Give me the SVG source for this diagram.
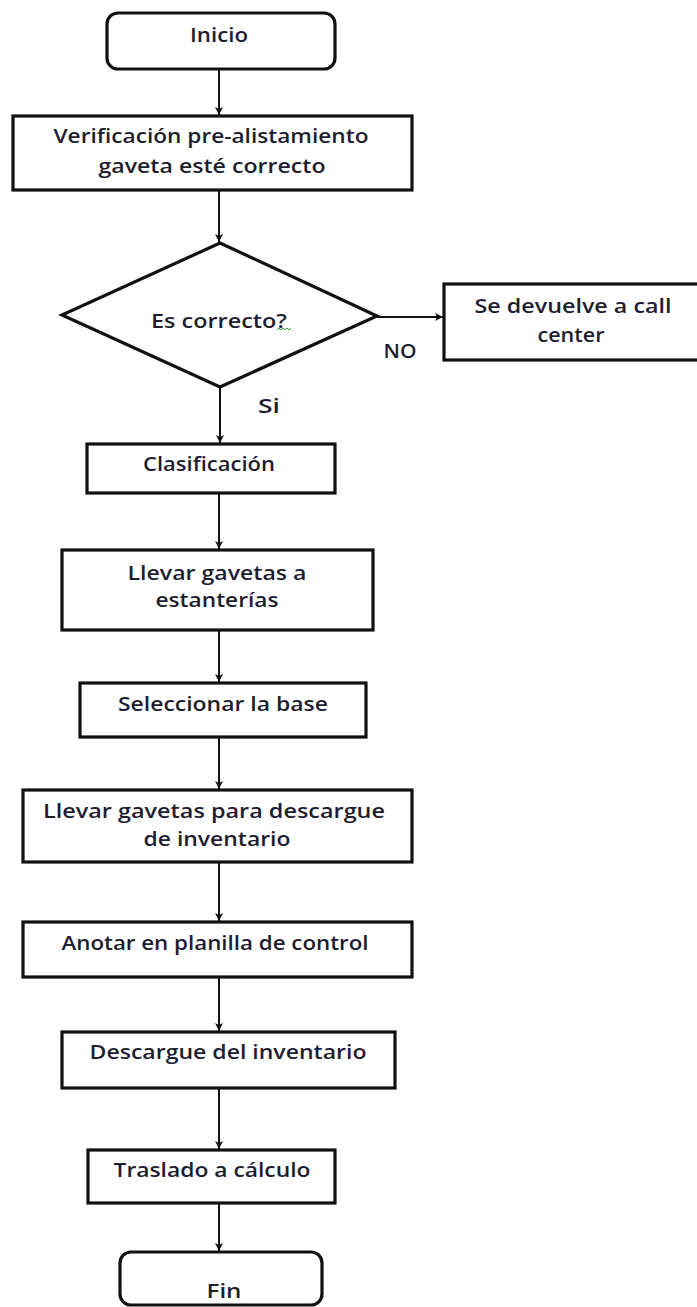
<svg xmlns="http://www.w3.org/2000/svg" width="697" height="1307" viewBox="0 0 697 1307">
  <style>
    .box { fill: #ffffff; stroke: #111111; stroke-width: 3.2; }
    .term { fill: #ffffff; stroke: #111111; stroke-width: 3.2; }
    .lbl { font-family: "Open Sans", "Liberation Sans", sans-serif; font-size: 19px; font-weight: 600; fill: #1e1e30; text-anchor: middle; }
    .edge { fill: none; stroke: #111111; stroke-width: 2; }
  </style>
  <defs>
    <marker id="arrow" markerUnits="userSpaceOnUse" markerWidth="10" markerHeight="10" refX="9" refY="5" orient="auto">
      <path d="M1,1 L9,5 L1,9 L3,5 Z" fill="#111111"/>
    </marker>
  </defs>
  <rect width="697" height="1307" fill="#ffffff"/>

  <g id="connectors">
    <line class="edge" x1="219" y1="69" x2="219" y2="115" marker-end="url(#arrow)"/>
    <line class="edge" x1="219" y1="190" x2="219" y2="242" marker-end="url(#arrow)"/>
    <line class="edge" x1="377" y1="317" x2="443" y2="317" marker-end="url(#arrow)"/>
    <line class="edge" x1="220" y1="387" x2="220" y2="443" marker-end="url(#arrow)"/>
    <line class="edge" x1="219" y1="493" x2="219" y2="549" marker-end="url(#arrow)"/>
    <line class="edge" x1="219" y1="630" x2="219" y2="682" marker-end="url(#arrow)"/>
    <line class="edge" x1="219" y1="737" x2="219" y2="789" marker-end="url(#arrow)"/>
    <line class="edge" x1="219" y1="862" x2="219" y2="921" marker-end="url(#arrow)"/>
    <line class="edge" x1="219" y1="977" x2="219" y2="1031" marker-end="url(#arrow)"/>
    <line class="edge" x1="219" y1="1088" x2="219" y2="1149" marker-end="url(#arrow)"/>
    <line class="edge" x1="219" y1="1203" x2="219" y2="1251" marker-end="url(#arrow)"/>
    <text class="lbl" x="400" y="358" textLength="33" lengthAdjust="spacingAndGlyphs">NO</text>
    <text class="lbl" x="269" y="413" textLength="22" lengthAdjust="spacingAndGlyphs">Si</text>
  </g>

  <g id="inicio">
    <rect class="term" x="107" y="13" width="228" height="56" rx="11"/>
    <text class="lbl" x="219" y="42" textLength="58" lengthAdjust="spacingAndGlyphs">Inicio</text>
  </g>

  <g id="verificacion">
    <rect class="box" x="13" y="116" width="399" height="74"/>
    <text class="lbl" x="211" y="143" textLength="315" lengthAdjust="spacingAndGlyphs">Verificación pre-alistamiento</text>
    <text class="lbl" x="212" y="173" textLength="227" lengthAdjust="spacingAndGlyphs">gaveta esté correcto</text>
  </g>

  <g id="decision">
    <polygon class="box" points="220,243 377,316 220,387 62,315"/>
    <text class="lbl" x="219" y="328" textLength="136" lengthAdjust="spacingAndGlyphs">Es correcto?</text>
    <path d="M277,330 l2,-2 l2,2 l2,-2 l2,2 l2,-2 l2,2 l2,-2" fill="none" stroke="#3a9a3a" stroke-width="1"/>
  </g>

  <g id="callcenter">
    <rect class="box" x="444" y="284" width="260" height="76"/>
    <text class="lbl" x="573" y="313" textLength="197" lengthAdjust="spacingAndGlyphs">Se devuelve a call</text>
    <text class="lbl" x="571" y="342" textLength="67" lengthAdjust="spacingAndGlyphs">center</text>
  </g>

  <g id="clasificacion">
    <rect class="box" x="87" y="444" width="248" height="49"/>
    <text class="lbl" x="209" y="471" textLength="132" lengthAdjust="spacingAndGlyphs">Clasificación</text>
  </g>

  <g id="estanterias">
    <rect class="box" x="62" y="550" width="311" height="80"/>
    <text class="lbl" x="217" y="580" textLength="179" lengthAdjust="spacingAndGlyphs">Llevar gavetas a</text>
    <text class="lbl" x="217" y="607" textLength="123" lengthAdjust="spacingAndGlyphs">estanterías</text>
  </g>

  <g id="seleccionar">
    <rect class="box" x="80" y="683" width="286" height="54"/>
    <text class="lbl" x="223" y="711" textLength="210" lengthAdjust="spacingAndGlyphs">Seleccionar la base</text>
  </g>

  <g id="descargue-llevar">
    <rect class="box" x="23" y="790" width="389" height="72"/>
    <text class="lbl" x="214" y="818" textLength="342" lengthAdjust="spacingAndGlyphs">Llevar gavetas para descargue</text>
    <text class="lbl" x="217" y="846" textLength="147" lengthAdjust="spacingAndGlyphs">de inventario</text>
  </g>

  <g id="anotar">
    <rect class="box" x="23" y="922" width="389" height="55"/>
    <text class="lbl" x="215" y="950" textLength="307" lengthAdjust="spacingAndGlyphs">Anotar en planilla de control</text>
  </g>

  <g id="descargue">
    <rect class="box" x="62" y="1032" width="333" height="56"/>
    <text class="lbl" x="228" y="1059" textLength="277" lengthAdjust="spacingAndGlyphs">Descargue del inventario</text>
  </g>

  <g id="traslado">
    <rect class="box" x="88" y="1150" width="247" height="53"/>
    <text class="lbl" x="212" y="1177" textLength="197" lengthAdjust="spacingAndGlyphs">Traslado a cálculo</text>
  </g>

  <g id="fin">
    <rect class="term" x="120" y="1252" width="202" height="53" rx="11"/>
    <text class="lbl" x="224" y="1298" textLength="35" lengthAdjust="spacingAndGlyphs">Fin</text>
  </g>
</svg>
